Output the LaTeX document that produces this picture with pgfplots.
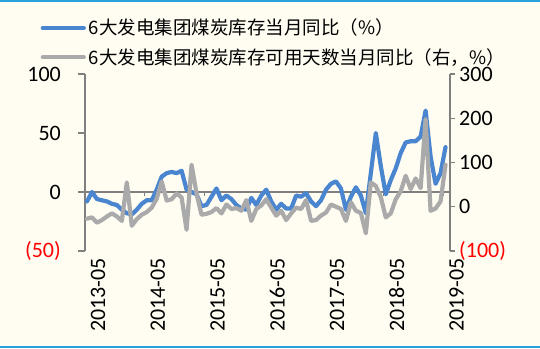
\documentclass[border=0pt]{standalone}
\usepackage{fontspec}
\setmainfont{Carlito}
\newfontfamily\cjk{Noto Sans CJK SC}
\usepackage{pgfplots}
\usepackage{pgfplotstable}
\pgfplotsset{compat=1.18}
\definecolor{bg}{RGB}{255,252,242}
\definecolor{framec}{RGB}{41,161,218}
\definecolor{sblue}{RGB}{74,134,208}
\definecolor{sgray}{RGB}{170,170,170}
\definecolor{axgray}{RGB}{128,128,128}

\pgfplotstableread{
i blue gray
0 -8 -27
1 0 -24
2 -6 -36
3 -7 -30
4 -8 -22
5 -10 -15
6 -11 -22
7 -15 -32
8 -18 55
9 -19 -43
10 -15 -28
11 -10 -18
12 -7 -12
13 -7 -2
14 2 18
15 13 57
16 16 14
17 17 17
18 16 30
19 18 21
20 2 -52
21 0 95
22 -2 30
23 -12 -18
24 -11 -16
25 -4 -12
26 3 -3
27 -7 -15
28 -3 5
29 -6 -5
30 -11 -3
31 -14 -9
32 -15 15
33 -5 -32
34 -11 -5
35 -3 3
36 2 17
37 -8 -2
38 -15 -20
39 -10 -9
40 -14 -30
41 -14 -15
42 -3 -2
43 -4 -5
44 -1 15
45 -8 -32
46 -12 -30
47 -7 -20
48 2 -13
49 7 5
50 9 0
51 3 -5
52 -15 -32
53 -4 10
54 4 -9
55 -3 -14
56 -18 -60
57 16 55
58 50 47
59 22 22
60 -2 -24
61 10 -15
62 20 17
63 33 35
64 42 70
65 43 40
66 43 64
67 47 42
68 69 198
69 30 -9
70 7 -4
71 16 12
72 38 95
}\data

\begin{document}
\begin{tikzpicture}[x=1pt,y=1pt]
\fill[bg] (0,0) rectangle (540,348);
\fill[framec] (0,345.5) rectangle (540,348);
\fill[framec] (0,0) rectangle (540,2.5);
\useasboundingbox (0,0) rectangle (540,348);
\begin{axis}[
  at={(85pt,97pt)}, anchor=south west,
  scale only axis, width=365pt, height=177pt,
  xmin=-0.4, xmax=72.9, ymin=-50, ymax=100,
  axis y line*=left, axis x line*=bottom,
  x axis line style={draw=none},
  y axis line style={axgray, line width=1.2pt},
  xtick={0,12,24,36,48,60,72},
  xticklabels={2013-05,2014-05,2015-05,2016-05,2017-05,2018-05,2019-05},
  major x tick style={draw=none},
  ytick={-50,0,50,100},
  yticklabels={\textcolor{red}{(50)},0,50,100},
  y tick style={axgray, line width=1.2pt},
  major tick length=7pt,
  tick align=outside,
  ticklabel style={font=\fontsize{22}{24}\selectfont},
  /pgf/number format/assume math mode=true,
  x tick label style={rotate=90, anchor=east, inner sep=0pt, yshift=-11pt},
  y tick label style={anchor=east, inner sep=0pt, xshift=-17pt},
  legend style={at={(axis description cs:-0.122,1.178)}, anchor=west, draw=none, fill=none,
    font=\cjk\fontsize{18.5}{20}\selectfont, inner sep=0pt, row sep=12pt, column sep=3pt,
    nodes={inner sep=0pt, anchor=west}},
  legend cell align=left,
  legend image code/.code={\draw[#1] (0pt,0pt) -- (41pt,0pt);},
]
\addplot[axgray, line width=1.2pt, forget plot] coordinates {(-0.4,0) (72.9,0)};
\pgfplotsinvokeforeach{0,12,24,36,48,60,72}{
  \draw[axgray, line width=1pt] (axis cs:#1-0.5,0) -- ([yshift=-4pt]axis cs:#1-0.5,0);
}
\addplot[sblue, line width=4.2pt, line join=round, line cap=round] table[x=i,y=blue]{\data};
\addlegendentry{6大发电集团煤炭库存当月同比（\%）}
\addlegendimage{sgray, line width=4.2pt, line cap=round}
\addlegendentry{6大发电集团煤炭库存可用天数当月同比（右，\%）}
\end{axis}
\begin{axis}[
  at={(85pt,97pt)}, anchor=south west,
  scale only axis, width=365pt, height=177pt,
  xmin=-0.4, xmax=72.9, ymin=-100, ymax=300,
  axis y line*=right, axis x line=none,
  y axis line style={axgray, line width=1.2pt},
  ytick={-100,0,100,200,300},
  yticklabels={\textcolor{red}{(100)},0,100,200,300},
  y tick style={axgray, line width=1.2pt},
  major tick length=5pt,
  tick align=outside,
  ticklabel style={font=\fontsize{22}{24}\selectfont},
  /pgf/number format/assume math mode=true,
  y tick label style={anchor=west, inner sep=0pt, xshift=4pt},
]
\addplot[sgray, line width=4.2pt, line join=round, line cap=round] table[x=i,y=gray]{\data};
\end{axis}
\end{tikzpicture}
\end{document}
